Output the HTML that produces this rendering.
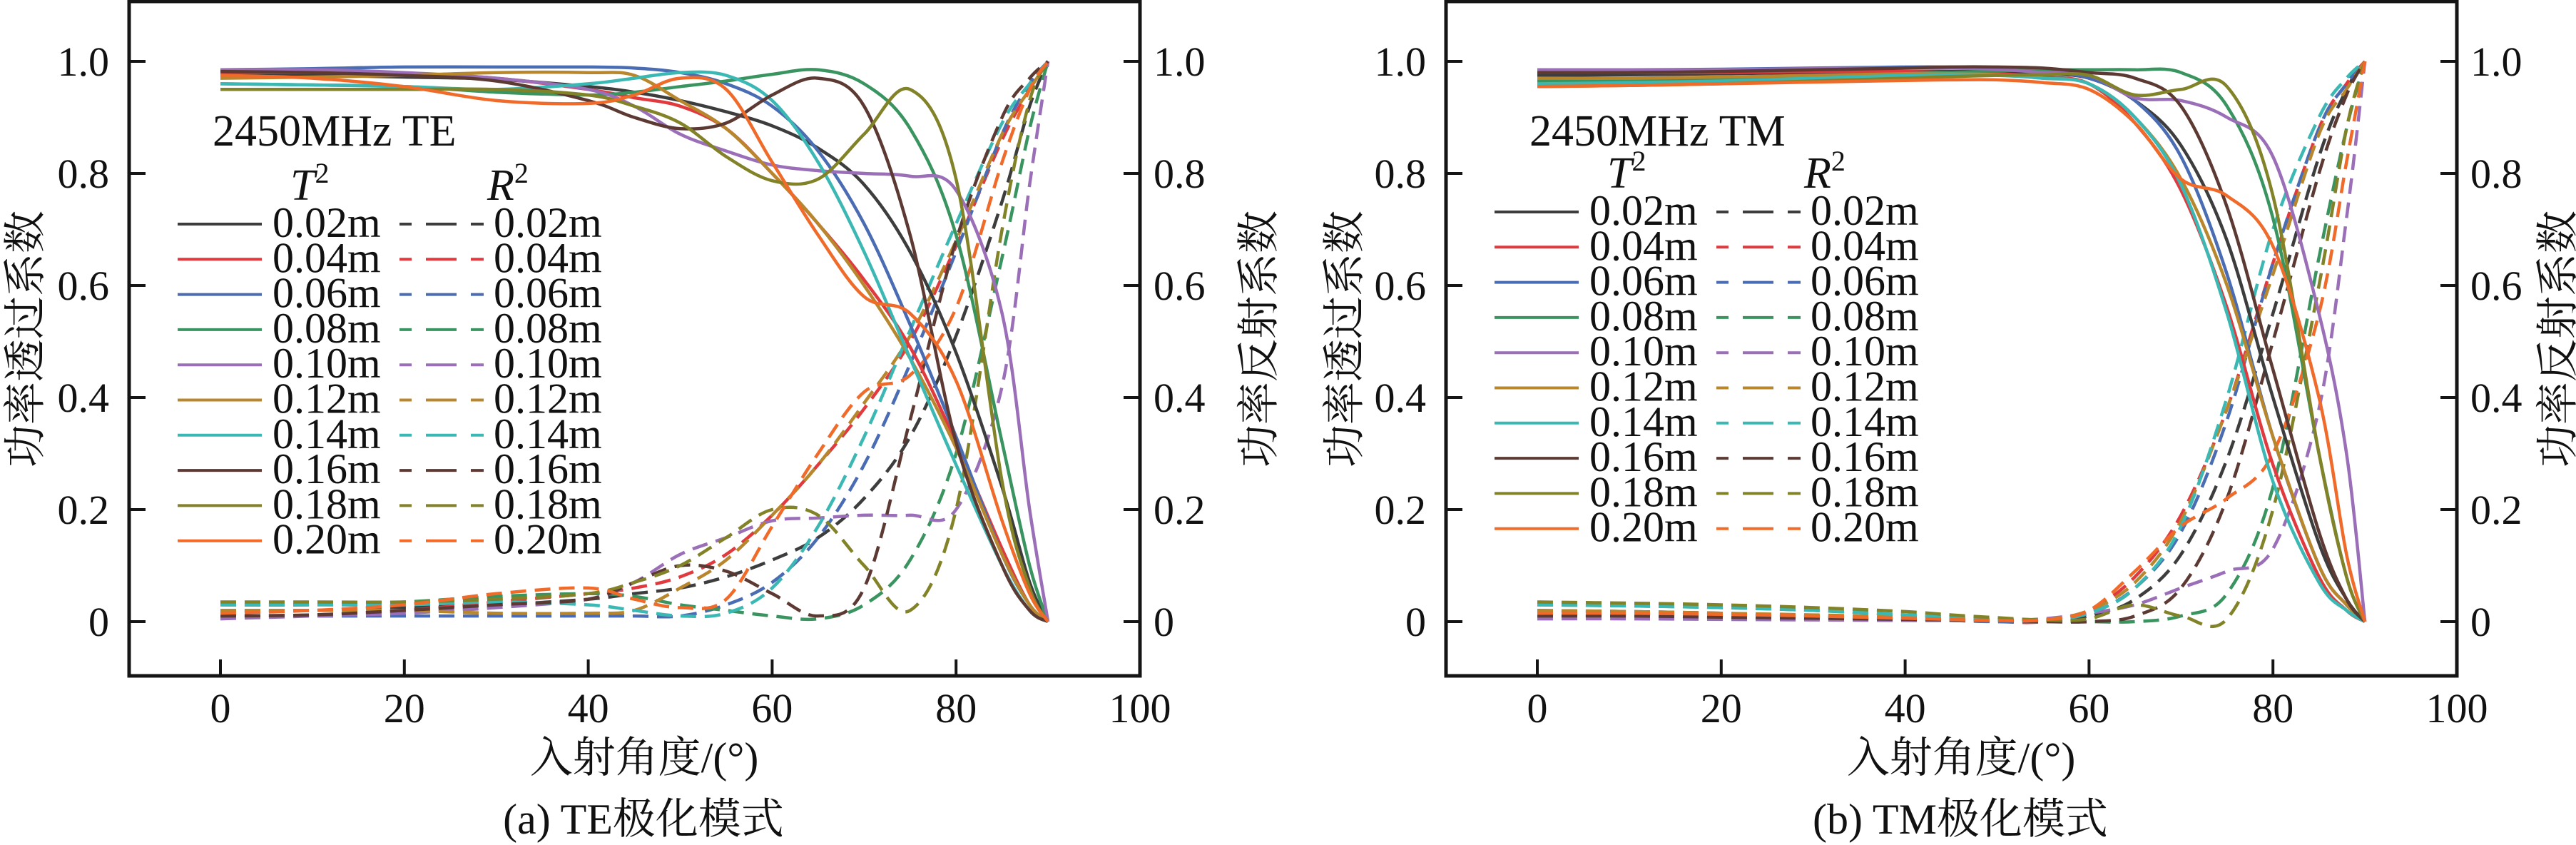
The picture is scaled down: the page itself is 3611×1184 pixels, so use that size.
<!DOCTYPE html>
<html><head><meta charset="utf-8"><style>
html,body{margin:0;padding:0;background:#fff;}
svg{display:block;}
text{font-family:"Liberation Serif","Noto Serif CJK SC",serif;fill:#111;}
.cjk{font-family:"Liberation Serif","Noto Serif CJK SC","Noto Sans CJK SC",serif;}
</style></head><body>
<svg id="chart" width="3611" height="1184" viewBox="0 0 3611 1184" xmlns="http://www.w3.org/2000/svg"></svg>
<script>
const angles=[0,10,20,30,40,45,50,55,60,65,70,75,80,85,88,90];
const seriesLabels=["0.02m","0.04m","0.06m","0.08m","0.10m","0.12m","0.14m","0.16m","0.18m","0.20m"];
const xTicks=[0,20,40,60,80,100];
const yTicks=[0,0.2,0.4,0.6,0.8,1.0];
const yTickLabels=["0","0.2","0.4","0.6","0.8","1.0"];
const teT=[
[.975,.975,.972,.968,.955,.945,.93,.91,.885,.845,.78,.66,.48,.24,.07,0],
[.98,.98,.978,.97,.95,.935,.92,.88,.80,.71,.61,.49,.32,.13,.03,0],
[.985,.987,.99,.99,.99,.988,.98,.96,.92,.84,.71,.53,.33,.12,.03,0],
[.96,.958,.955,.945,.94,.945,.955,.965,.977,.985,.96,.88,.69,.32,.1,0],
[.985,.985,.98,.97,.95,.92,.87,.84,.815,.805,.80,.795,.77,.55,.2,0],
[.97,.972,.975,.98,.98,.975,.93,.88,.80,.71,.60,.47,.31,.12,.03,0],
[.96,.958,.955,.95,.96,.97,.98,.975,.93,.82,.66,.47,.28,.10,.02,0],
[.982,.98,.975,.965,.93,.90,.88,.89,.94,.97,.92,.69,.32,.10,.02,0],
[.95,.95,.95,.95,.94,.92,.89,.83,.787,.79,.87,.95,.79,.25,.06,0],
[.975,.97,.955,.93,.925,.94,.97,.95,.82,.69,.58,.55,.43,.18,.05,0]];
const teR=[
[.02,.02,.025,.03,.04,.05,.06,.08,.11,.15,.22,.33,.51,.75,.92,1],
[.01,.012,.02,.035,.05,.06,.08,.12,.19,.28,.38,.50,.67,.86,.95,1],
[.01,.01,.01,.01,.01,.01,.01,.03,.07,.15,.28,.46,.66,.87,.96,1],
[.03,.03,.035,.045,.05,.045,.03,.02,.01,.005,.03,.11,.30,.65,.88,1],
[.005,.01,.015,.025,.04,.07,.12,.15,.18,.185,.19,.19,.20,.42,.78,1],
[.02,.02,.02,.015,.015,.02,.06,.11,.19,.28,.39,.51,.68,.87,.95,1],
[.03,.03,.03,.035,.03,.02,.01,.015,.06,.17,.33,.52,.71,.89,.96,1],
[.01,.012,.02,.03,.04,.07,.10,.09,.05,.01,.06,.36,.68,.90,.97,1],
[.035,.035,.035,.04,.05,.07,.10,.15,.20,.19,.10,.02,.20,.70,.93,1],
[.015,.02,.03,.05,.06,.04,.025,.04,.17,.30,.41,.44,.56,.82,.95,1]];
const tmT=[
[.975,.976,.978,.98,.982,.982,.982,.978,.97,.93,.85,.68,.40,.14,.04,0],
[.98,.98,.98,.982,.982,.98,.978,.972,.96,.89,.77,.56,.28,.08,.02,0],
[.985,.985,.986,.988,.99,.99,.988,.982,.97,.93,.83,.62,.33,.10,.03,0],
[.965,.966,.968,.972,.978,.98,.983,.985,.985,.985,.98,.92,.72,.30,.08,0],
[.985,.985,.985,.987,.988,.988,.986,.98,.975,.935,.93,.90,.83,.55,.30,0],
[.97,.97,.972,.975,.978,.978,.976,.97,.96,.90,.79,.60,.33,.10,.03,0],
[.96,.962,.965,.97,.975,.976,.975,.97,.96,.90,.78,.55,.25,.07,.02,0],
[.98,.98,.982,.985,.988,.99,.99,.988,.98,.97,.92,.74,.45,.16,.04,0],
[.955,.957,.96,.965,.97,.973,.975,.976,.975,.94,.95,.955,.76,.30,.08,0],
[.955,.957,.96,.963,.966,.967,.967,.962,.95,.89,.79,.76,.67,.40,.12,0]];
const tmR=[
[.02,.018,.015,.01,.005,.003,.002,.002,.01,.04,.12,.29,.55,.83,.95,1],
[.01,.01,.008,.005,.003,.002,0,0,.02,.08,.19,.38,.64,.88,.96,1],
[.01,.01,.008,.005,.003,.002,0,.002,.015,.06,.16,.36,.64,.88,.96,1],
[.03,.028,.025,.02,.012,.008,.004,.002,0,0,.01,.05,.24,.65,.88,1],
[.005,.005,.004,.003,.002,.002,.002,.005,.015,.03,.06,.09,.13,.38,.72,1],
[.02,.018,.015,.012,.008,.005,.003,.003,.02,.07,.18,.38,.62,.87,.95,1],
[.03,.028,.025,.02,.012,.008,.003,.003,.015,.06,.17,.40,.70,.90,.97,1],
[.01,.01,.008,.006,.004,.003,.002,0,0,.01,.06,.22,.50,.80,.94,1],
[.035,.033,.03,.025,.018,.012,.007,.003,.005,.03,.01,.005,.20,.60,.88,1],
[.015,.015,.013,.01,.006,.004,.002,.003,.02,.09,.17,.22,.30,.55,.82,1]];
const colors=["#3d3d3d","#e0393e","#4a6cb3","#3a9460","#9a6fb8","#b8862c","#3bb8b4","#5c3a33","#828228","#f06a2a"];

const NS="http://www.w3.org/2000/svg";
const svg=document.getElementById('chart');
function el(tag,attrs,parent){const e=document.createElementNS(NS,tag);for(const k in attrs)e.setAttribute(k,attrs[k]);(parent||svg).appendChild(e);return e;}
function txt(s,attrs,parent){const e=el('text',attrs,parent);e.textContent=s;return e;}

function drawPanel(off,key,T,R,title,caption,legDy,leftLabX,rightLabX){
  const g=el('g',{});
  
  
  const L=181+off,Rt=1598+off,Tp=2,B=947;
  const xs=a=>309+off+a*12.89;
  const ys=v=>871-v*785;
  function path(vals){
    const p=angles.map((a,i)=>[xs(a),ys(vals[i])]);
    let d='M'+p[0][0].toFixed(1)+','+p[0][1].toFixed(1);
    for(let i=0;i<p.length-1;i++){
      const p0=p[Math.max(0,i-1)],p1=p[i],p2=p[i+1],p3=p[Math.min(p.length-1,i+2)];
      const c1=[p1[0]+(p2[0]-p0[0])/6,p1[1]+(p2[1]-p0[1])/6];
      const c2=[p2[0]-(p3[0]-p1[0])/6,p2[1]-(p3[1]-p1[1])/6];
      d+='C'+c1[0].toFixed(1)+','+c1[1].toFixed(1)+' '+c2[0].toFixed(1)+','+c2[1].toFixed(1)+' '+p2[0].toFixed(1)+','+p2[1].toFixed(1);
    }
    return d;
  }
  const cg=el('g',{},g);
  for(let i=0;i<R.length;i++){
    const e=el('path',{d:path(R[i]),fill:'none',stroke:colors[i],'stroke-width':4.5,'stroke-dasharray':'22,12'},cg);
    
    
  }
  for(let i=0;i<T.length;i++){
    const e=el('path',{d:path(T[i]),fill:'none',stroke:colors[i],'stroke-width':4.5},cg);
    
    
  }
  const fr=el('rect',{x:L,y:Tp,width:Rt-L,height:B-Tp,fill:'none',stroke:'#151515','stroke-width':5},g);
  
  
  xTicks.forEach(t=>{
    const x=xs(t);
    el('line',{x1:x,y1:B,x2:x,y2:B-23,stroke:'#151515','stroke-width':4},g);
    const tl=txt(String(t),{x:x,y:1012,'font-size':58,'text-anchor':'middle'},g);
    
    
  });
  yTicks.forEach((t,i)=>{
    const y=ys(t);
    el('line',{x1:L,y1:y,x2:L+23,y2:y,stroke:'#151515','stroke-width':4},g);
    el('line',{x1:Rt,y1:y,x2:Rt-23,y2:y,stroke:'#151515','stroke-width':4},g);
    const a=txt(yTickLabels[i],{x:153+off,y:y+20,'font-size':58,'text-anchor':'end'},g);
    
    
    const b=txt(yTickLabels[i],{x:1617+off,y:y+20,'font-size':58,'text-anchor':'start'},g);
    
    
  });
  const yl=txt('功率透过系数',{x:0,y:0,'font-size':60,'text-anchor':'middle',class:'cjk',transform:'translate('+leftLabX+',475) rotate(-90)'},g);
  
  
  const yr=txt('功率反射系数',{x:0,y:0,'font-size':60,'text-anchor':'middle',class:'cjk',transform:'translate('+rightLabX+',475) rotate(-90)'},g);
  
  
  const xl=txt('入射角度/(°)',{x:903+off,y:1082,'font-size':60,'text-anchor':'middle',class:'cjk'},g);
  
  
  const cp=txt(caption,{x:902+off,y:1168,'font-size':60,'text-anchor':'middle',class:'cjk'},g);
  
  
  const lg=el('g',{},g);
  
  
  const tt=txt(title,{x:298+off,y:204,'font-size':62},lg);
  
  
  const h1=el('text',{x:407+off,y:280+legDy,'font-size':62},lg);
  h1.innerHTML='<tspan font-style="italic">T</tspan><tspan font-size="40" dy="-24">2</tspan>';
  
  
  const h2=el('text',{x:683+off,y:280+legDy,'font-size':62},lg);
  h2.innerHTML='<tspan font-style="italic">R</tspan><tspan font-size="40" dy="-24">2</tspan>';
  
  
  for(let i=0;i<seriesLabels.length;i++){
    const y=314+legDy+i*49.3;
    const e=el('g',{},lg);
    
    
    el('line',{x1:249+off,y1:y,x2:367+off,y2:y,stroke:colors[i],'stroke-width':4},e);
    txt(seriesLabels[i],{x:382+off,y:y+18,'font-size':60},e);
    [[560,577],[597,640],[660,678]].forEach(s=>el('line',{x1:s[0]+off,y1:y,x2:s[1]+off,y2:y,stroke:colors[i],'stroke-width':4},e));
    txt(seriesLabels[i],{x:692+off,y:y+18,'font-size':60},e);
  }
}
drawPanel(0,'te',teT,teR,'2450MHz TE','(a) TE极化模式',0,56,1785);
drawPanel(1846,'tm',tmT,tmR,'2450MHz TM','(b) TM极化模式',-17,1905,3606);
</script>
</body></html>
